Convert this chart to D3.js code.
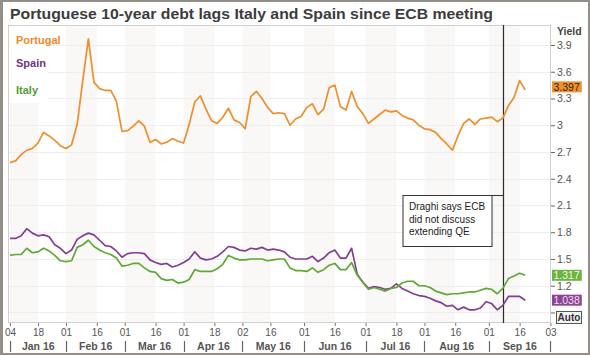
<!DOCTYPE html>
<html><head><meta charset="utf-8">
<script src="https://cdn.jsdelivr.net/npm/d3@7"></script>
<style>
html,body{margin:0;padding:0;background:#fff;}
svg{display:block;font-family:"Liberation Sans",Arial,sans-serif;}
</style>
</head><body>
<svg id="chart" width="590" height="355"></svg>
<script>
// ---------------- data ----------------
const title = "Portuguese 10-year debt lags Italy and Spain since ECB meeting";
const seriesNames = ["Portugal", "Spain", "Italy"];
const seriesColors = ["#ef8e2c", "#833e93", "#5ea936"];
const legendColors = ["#ec8a2a", "#6e3486", "#4f9d34"];
const startDate = "2016-01-04";
const endDate = "2016-10-03";
const sampleStep = 2;            // one reading every second trading day
const holidays = ["2016-03-25", "2016-03-28"];

const portugal = [2.58,2.60,2.67,2.72,2.74,2.80,2.92,2.88,2.83,2.77,
  2.74,2.78,3.01,3.50,3.97,3.48,3.41,3.39,3.39,3.27,
  2.93,2.94,2.99,3.05,2.99,2.81,2.84,2.79,2.81,2.85,
  2.82,2.80,3.01,3.26,3.33,3.18,3.05,3.02,3.09,3.19,
  3.06,3.03,2.96,3.32,3.38,3.30,3.20,3.13,3.14,3.13,
  3.00,3.07,3.10,3.20,3.24,3.12,3.18,3.42,3.45,3.21,
  3.17,3.38,3.21,3.13,3.02,3.07,3.12,3.17,3.15,3.16,
  3.11,3.08,3.06,3.00,2.96,2.95,2.92,2.85,2.79,2.72,
  2.88,3.02,3.07,3.01,3.07,3.08,3.09,3.04,3.08,3.22,
  3.31,3.50,3.397];
const spain = [1.73,1.73,1.76,1.84,1.79,1.76,1.77,1.75,1.66,1.62,
  1.56,1.60,1.72,1.76,1.79,1.77,1.71,1.65,1.64,1.59,
  1.52,1.56,1.57,1.57,1.56,1.49,1.46,1.44,1.45,1.41,
  1.43,1.46,1.50,1.58,1.51,1.49,1.50,1.53,1.58,1.64,
  1.63,1.60,1.59,1.62,1.61,1.63,1.60,1.61,1.60,1.58,
  1.52,1.50,1.50,1.50,1.53,1.47,1.51,1.57,1.60,1.51,
  1.51,1.62,1.33,1.24,1.17,1.19,1.18,1.16,1.17,1.22,
  1.17,1.14,1.11,1.09,1.08,1.06,1.03,1.01,0.97,0.98,
  0.93,0.96,0.93,0.93,0.95,1.02,1.00,0.93,0.98,1.08,
  1.08,1.08,1.038];
const italy = [1.54,1.55,1.55,1.62,1.57,1.58,1.62,1.59,1.54,1.48,
  1.47,1.48,1.63,1.66,1.71,1.64,1.60,1.57,1.55,1.51,
  1.42,1.43,1.45,1.45,1.40,1.36,1.35,1.28,1.26,1.27,
  1.23,1.24,1.27,1.38,1.36,1.36,1.36,1.39,1.44,1.54,
  1.51,1.49,1.49,1.50,1.50,1.50,1.48,1.49,1.50,1.50,
  1.40,1.37,1.37,1.36,1.40,1.35,1.38,1.43,1.45,1.38,
  1.38,1.46,1.32,1.24,1.16,1.18,1.16,1.14,1.17,1.18,
  1.23,1.25,1.25,1.20,1.20,1.18,1.14,1.12,1.10,1.11,
  1.11,1.12,1.13,1.13,1.15,1.17,1.16,1.11,1.17,1.28,
  1.31,1.34,1.317];

const tickDates = ["2016-01-04","2016-01-18","2016-02-01","2016-02-16","2016-03-01","2016-03-16",
  "2016-04-01","2016-04-18","2016-05-02","2016-05-16","2016-06-01","2016-06-16",
  "2016-07-01","2016-07-18","2016-08-01","2016-08-16","2016-09-01","2016-09-16","2016-10-03"];
const monthStarts = ["2016-01-04","2016-02-01","2016-03-01","2016-04-01","2016-05-02",
  "2016-06-01","2016-07-01","2016-08-01","2016-09-01","2016-10-03"];
const monthLabels = ["Jan 16","Feb 16","Mar 16","Apr 16","May 16","Jun 16","Jul 16","Aug 16","Sep 16"];
const yTicks = [0.9,1.2,1.5,1.8,2.1,2.4,2.7,3,3.3,3.6,3.9];
const yTickLabels = ["","1.2","1.5","1.8","2.1","2.4","2.7","3","3.3","3.6","3.9"];
const yAxisTitle = "Yield";
const ecbDate = "2016-09-08";
const noteLines = ["Draghi says ECB","did not discuss","extending QE"];
const autoLabel = "Auto";

// ---------------- calendar ----------------
const parse = d3.utcParse("%Y-%m-%d"), fmt = d3.utcFormat("%Y-%m-%d");
const days = d3.utcDays(parse(startDate), d3.utcDay.offset(parse(endDate), 1))
  .filter(d => d.getUTCDay() % 6 !== 0 && !holidays.includes(fmt(d)));
const dayIndex = new Map(days.map((d, i) => [fmt(d), i]));
const idx = s => dayIndex.get(s);

// ---------------- layout ----------------
const W = 590, H = 355;
const plot = {left: 8, right: 551, top: 25, bottom: 323};
const svg = d3.select("#chart");

const x = d3.scaleLinear().domain([idx(startDate) - 0.7, idx(endDate) + 0.2]).range([plot.left, plot.right]);
const y = d3.scaleLinear().domain([0.782, 4.124]).range([plot.bottom, plot.top]);

svg.append("rect").attr("width", W).attr("height", H).attr("fill", "#fff");

// shaded half-month bands
for (let k = 0; k + 1 < tickDates.length; k += 2) {
  svg.append("rect")
    .attr("x", x(idx(tickDates[k]))).attr("y", plot.top)
    .attr("width", x(idx(tickDates[k + 1])) - x(idx(tickDates[k])))
    .attr("height", plot.bottom - plot.top)
    .attr("fill", "#f9f8f7");
}
// horizontal grid
svg.append("g").selectAll("line").data(yTicks).join("line")
  .attr("x1", plot.left).attr("x2", plot.right)
  .attr("y1", d => Math.round(y(d)) + 0.5).attr("y2", d => Math.round(y(d)) + 0.5)
  .attr("stroke", "#eeeeee").attr("stroke-width", 1);

// legend box (white) covering grid
svg.append("rect").attr("x", plot.left).attr("y", plot.top).attr("width", 40).attr("height", 78).attr("fill", "#fff");

// plot frame
svg.append("rect").attr("x", plot.left + 0.5).attr("y", plot.top + 0.5)
  .attr("width", plot.right - plot.left - 1).attr("height", plot.bottom - plot.top - 1)
  .attr("fill", "none").attr("stroke", "#d0d0d0");

// ECB line
const xe = Math.round(x(idx(ecbDate))) + 0.5;
svg.append("line").attr("x1", xe).attr("x2", xe).attr("y1", plot.top).attr("y2", plot.bottom)
  .attr("stroke", "#2b2b2b").attr("stroke-width", 1.2);

// series lines
const allSeries = [portugal, spain, italy];
const line = d3.line().x(d => x(d[0])).y(d => y(d[1]));
allSeries.forEach((vals, s) => {
  const pts = vals.map((v, k) => [idx(startDate) + k * sampleStep, v]);
  svg.append("path").attr("d", line(pts)).attr("fill", "none")
    .attr("stroke", seriesColors[s]).attr("stroke-width", 1.7).attr("stroke-linejoin", "round");
});
// legend text
const legendY = [44, 67, 94];
seriesNames.forEach((n, s) => {
  svg.append("text").attr("x", 16).attr("y", legendY[s]).text(n)
    .attr("font-size", 11).attr("font-weight", "bold").attr("fill", legendColors[s]);
});

// annotation
const boxR = xe - 12, boxW = 89, boxT = 195, boxH = 51;
svg.append("rect").attr("x", boxR - boxW + 0.5).attr("y", boxT + 0.5).attr("width", boxW).attr("height", boxH)
  .attr("fill", "#fff").attr("stroke", "#333");
svg.append("line").attr("x1", boxR).attr("x2", xe).attr("y1", boxT + 0.5).attr("y2", boxT + 0.5).attr("stroke", "#333");
noteLines.forEach((t, k) => {
  svg.append("text").attr("x", boxR - boxW + 6.5).attr("y", boxT + 15 + k * 12.5).text(t)
    .attr("font-size", 10).attr("fill", "#222");
});

// title
svg.append("text").attr("x", 10).attr("y", 19).text(title)
  .attr("font-size", 15).attr("font-weight", "bold").attr("fill", "#3c3c3c")
  .attr("textLength", 483).attr("lengthAdjust", "spacingAndGlyphs");

// right axis
const ya = svg.append("g").attr("transform", `translate(${plot.right},0)`)
  .call(d3.axisRight(y).tickValues(yTicks).tickSize(4).tickPadding(2)
    .tickFormat((d, i) => yTickLabels[i]));
ya.select(".domain").remove();
ya.selectAll("line").attr("stroke", "#666");
ya.selectAll("text").attr("font-size", 10.5).attr("fill", "#555").attr("font-family", "Liberation Sans, Arial, sans-serif");
svg.append("text").attr("x", 557).attr("y", 35).text(yAxisTitle)
  .attr("font-size", 10.5).attr("font-weight", "bold").attr("fill", "#444");

// last value tags
const tagFill = ["#f0922b", "#8a4596", "#6cb43f"];
const tagText = ["#2e2418", "#f6dcf6", "#eef8e6"];
const tagShift = [-3, 0, 0];
allSeries.forEach((vals, s) => {
  const v = vals[vals.length - 1];
  const cy = y(v) + tagShift[s];
  const g = svg.append("g");
  const r = g.append("rect").attr("x", 552).attr("y", cy - 5.5).attr("height", 11).attr("fill", tagFill[s]);
  const t = g.append("text").attr("x", 553.5).attr("y", cy + 3.8).text(d3.format(".3f")(v))
    .attr("font-size", 10.5).attr("fill", tagText[s]);
  r.attr("width", t.node().getComputedTextLength() + 3.5);
});

// Auto box
svg.append("rect").attr("x", 556.5).attr("y", 311.5).attr("width", 25).attr("height", 12)
  .attr("fill", "#f3f3f3").attr("stroke", "#555");
svg.append("text").attr("x", 569).attr("y", 321).attr("text-anchor", "middle").text(autoLabel)
  .attr("font-size", 10).attr("font-weight", "bold").attr("fill", "#333");

// bottom axis
const xa = svg.append("g").attr("transform", `translate(0,${plot.bottom})`)
  .call(d3.axisBottom(x).tickValues(tickDates.map(idx)).tickSize(3).tickPadding(3)
    .tickFormat((d, i) => d3.utcFormat("%d")(parse(tickDates[i]))));
xa.select(".domain").remove();
xa.selectAll("line").attr("stroke", "#777");
xa.selectAll("text").attr("font-size", 10).attr("fill", "#555").attr("font-family", "Liberation Sans, Arial, sans-serif");

// month separators & labels
monthStarts.forEach((m, k) => {
  const xm = Math.round(x(idx(m))) + 0.5;
  svg.append("line").attr("x1", xm).attr("x2", xm).attr("y1", 341).attr("y2", 352)
    .attr("stroke", "#666").attr("stroke-width", 1.2);
  if (k < monthLabels.length) {
    const xn = x(idx(monthStarts[k + 1]));
    svg.append("text").attr("x", (xm + xn) / 2).attr("y", 350).attr("text-anchor", "middle")
      .text(monthLabels[k]).attr("font-size", 10.5).attr("font-weight", "bold").attr("fill", "#555");
  }
});

// outer frame
svg.append("rect").attr("x", 1).attr("y", 1).attr("width", W - 2).attr("height", H - 2)
  .attr("fill", "none").attr("stroke", "#948e89").attr("stroke-width", 2);
svg.append("rect").attr("x", 0).attr("y", 0).attr("width", 3).attr("height", H).attr("fill", "#948e89");
</script>
</body></html>
